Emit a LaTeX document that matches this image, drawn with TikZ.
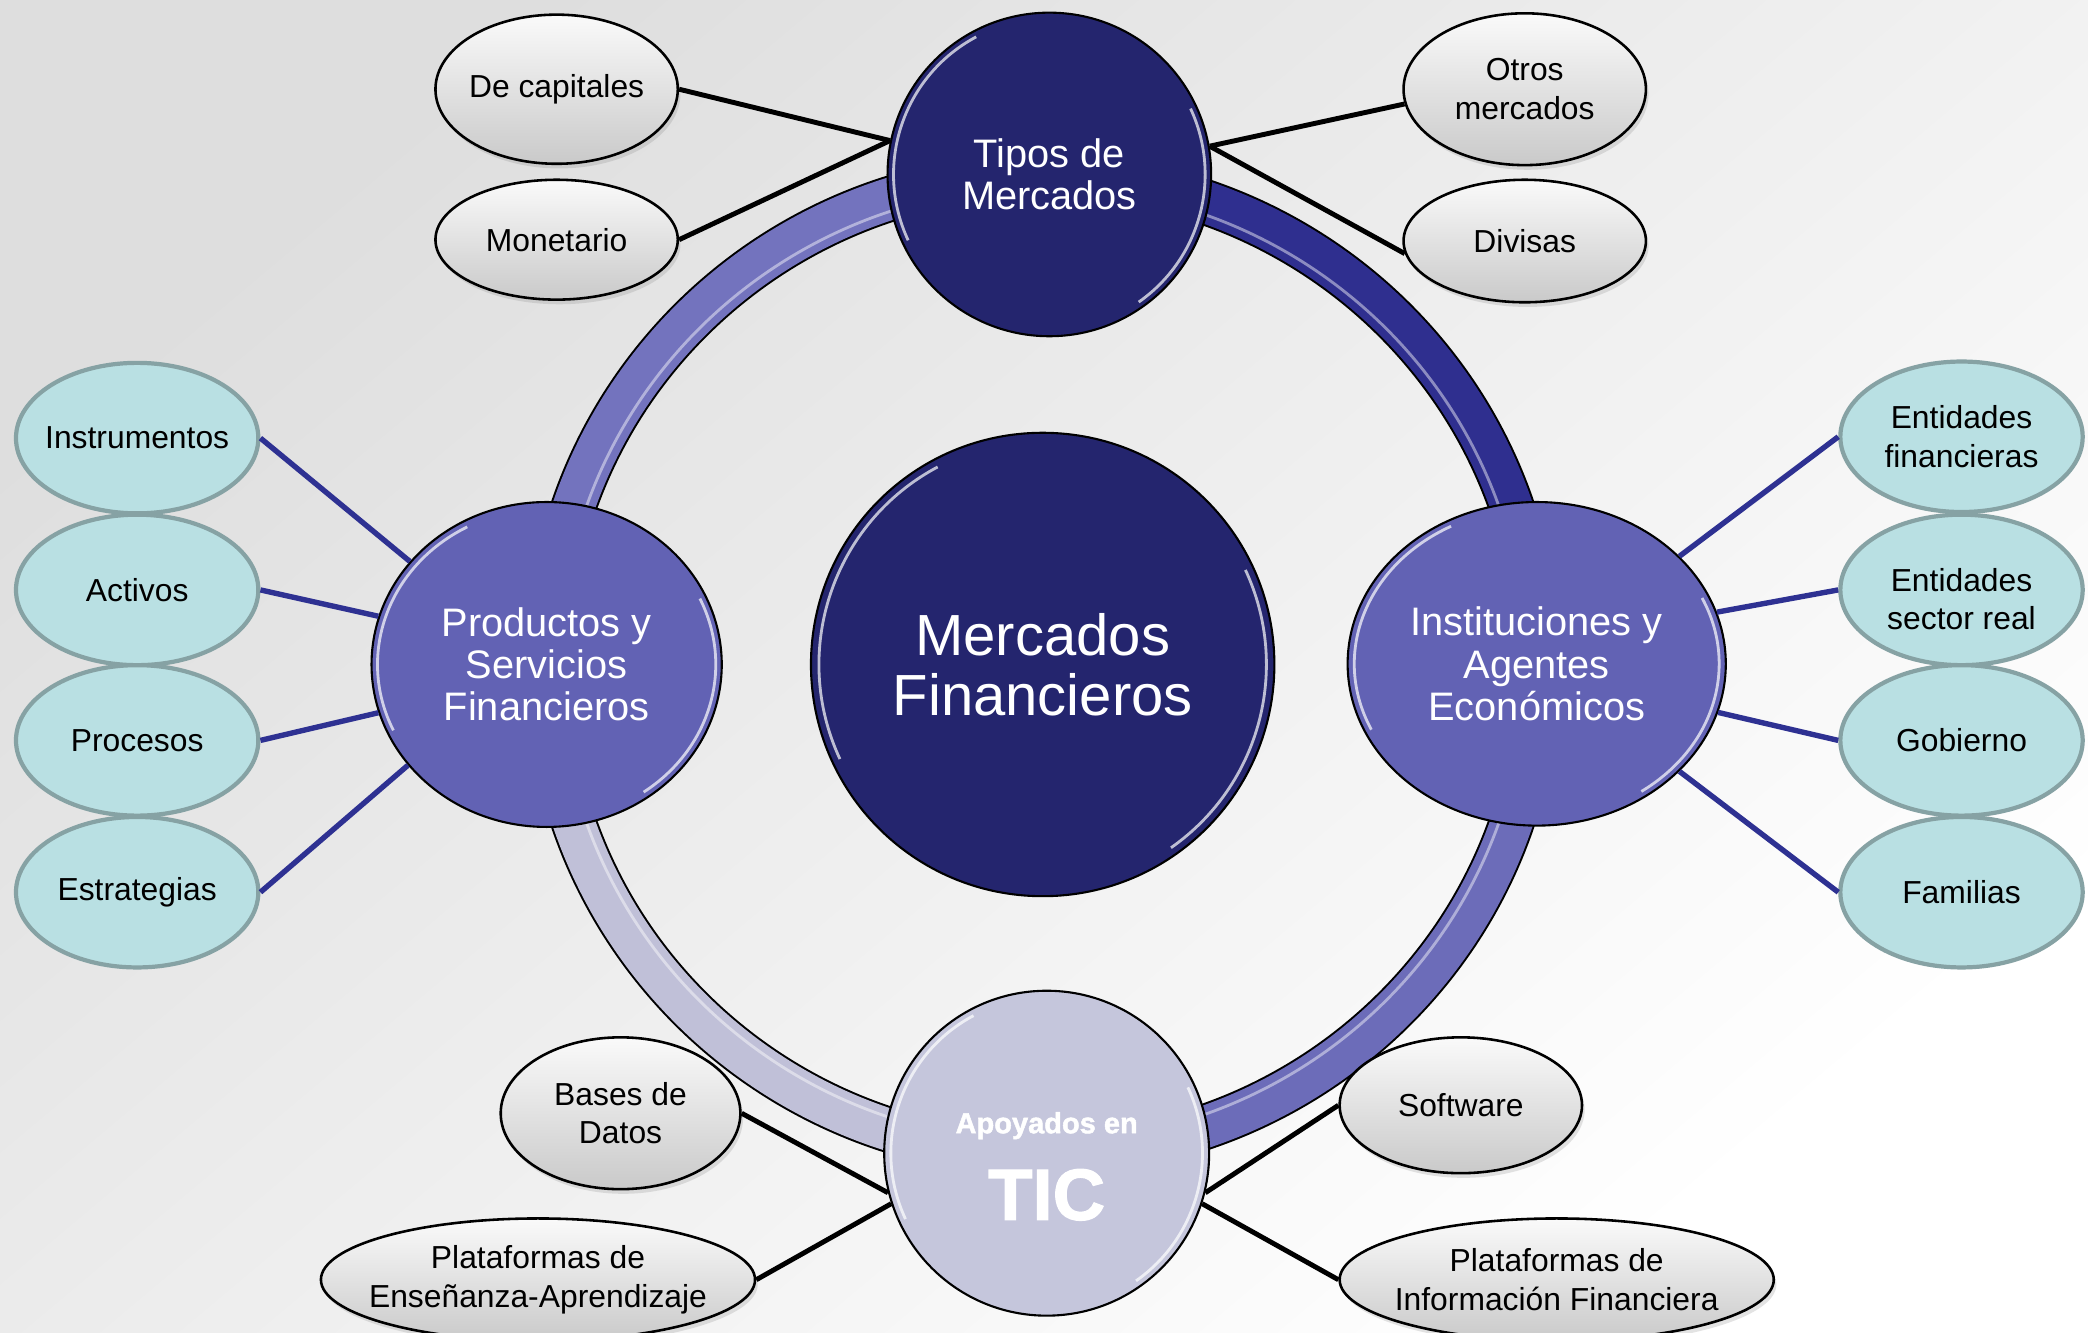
\documentclass[tikz,border=0pt]{standalone}
\usepackage{fontspec}
\setmainfont{Liberation Sans}
\newfontfamily\heavyfont{Liberation Sans Bold}[FakeBold=1.6]
\usetikzlibrary{shapes, calc, shadows}

\definecolor{navyorb}{HTML}{24256E}
\definecolor{purporb}{HTML}{6262B4}
\definecolor{paleorb}{HTML}{C5C6DC}
\definecolor{ringTL}{HTML}{7373BE}
\definecolor{ringTR}{HTML}{2F2F8F}
\definecolor{ringBR}{HTML}{6C6CB9}
\definecolor{ringBL}{HTML}{C0C0D8}
\definecolor{aqua}{HTML}{B9E0E3}
\definecolor{aquaedge}{HTML}{86A2A4}
\definecolor{linkblue}{HTML}{2E3192}

\tikzset{
	orb/.style={circle, draw=black, line width=0.45pt, inner sep=0pt, text=white, align=center},
	bigfont/.style={font=\fontsize{12.4}{12.8}\selectfont},
	midfont/.style={font=\fontsize{8.5}{9}\selectfont},
	smallfont/.style={font=\fontsize{6.8}{8.2}\selectfont},
	greyoval/.style={ellipse, draw=black, line width=0.55pt, inner sep=-0.12cm, align=center,
		top color=gray!4, bottom color=gray!42, smallfont,
		drop shadow={opacity=0.22, shadow xshift=0.02, shadow yshift=-0.035}},
	aquaoval/.style={ellipse, draw=aquaedge, line width=0.9pt, fill=aqua, inner sep=-0.12cm,
		align=center, minimum width=1.82cm, minimum height=1.13cm, smallfont},
	darklink/.style={black, line width=1.05pt},
	bluelink/.style={linkblue, line width=1.15pt},
	glint/.style={white, opacity=0.7, line width=0.6pt}
}

% one quarter of the ring between two orbs
\newcommand{\ringarc}[3]{
	\draw[line width=0.345cm, black] (ringc) ++(#1:3.72 and 3.675)
		arc[start angle=#1, end angle=#2, x radius=3.72, y radius=3.675];
	\draw[line width=0.315cm, #3] (ringc) ++(#1:3.72 and 3.675)
		arc[start angle=#1, end angle=#2, x radius=3.72, y radius=3.675];
	\draw[glint, opacity=0.45] (ringc) ++(#1:3.63 and 3.585)
		arc[start angle=#1, end angle=#2, x radius=3.63, y radius=3.585];
}
% shine on the rim of an orb
\newcommand{\gloss}[3]{
	\draw[glint] (#1.center) ++(118:#2 and #3) arc[start angle=118, end angle=205, x radius=#2, y radius=#3];
	\draw[glint] (#1.center) ++(-55:#2 and #3) arc[start angle=-55, end angle=25, x radius=#2, y radius=#3];
}

\begin{document}
\begin{tikzpicture}

	\useasboundingbox (0,0) rectangle (15.68,10.01);
	\shade[top color=gray!26, bottom color=white, shading angle=40] (0,0) rectangle (15.68,10.01);

	\coordinate (ringc) at (7.83,5.02);
	\ringarc{90}{180}{ringTL}
	\ringarc{0}{90}{ringTR}
	\ringarc{-90}{0}{ringBR}
	\ringarc{180}{270}{ringBL}

	\node[orb, fill=navyorb, minimum size=3.48cm, bigfont] (mercados) at (7.83,5.02) {Mercados\\Financieros};
	\node[orb, fill=navyorb, minimum size=2.43cm, midfont] (tipos) at (7.88,8.70) {Tipos de\\Mercados};
	\node[orb, ellipse, fill=purporb, minimum width=2.63cm, minimum height=2.44cm, midfont] (prod) at (4.105,5.02) {Productos y\\Servicios\\Financieros};
	\node[orb, ellipse, fill=purporb, minimum width=2.84cm, minimum height=2.43cm, midfont] (inst) at (11.54,5.025) {Instituciones y\\Agentes\\Econ\'omicos};
	\node[orb, fill=paleorb, minimum size=2.44cm] (tic) at (7.86,1.35) {};
	\node[anchor=base, text=white, font=\heavyfont\fontsize{6.2}{7}\selectfont] (apoyo) at (7.86,1.50) {Apoyados en};
	\node[anchor=base, text=white, font=\heavyfont\fontsize{15.5}{16}\selectfont] (ticname) at (7.86,0.85) {TIC};

	\gloss{mercados}{1.68}{1.68}
	\gloss{tipos}{1.17}{1.17}
	\gloss{prod}{1.27}{1.17}
	\gloss{inst}{1.37}{1.17}
	\gloss{tic}{1.17}{1.17}

	% tipos de mercado
	\node[greyoval, minimum width=1.82cm, minimum height=1.12cm] (decap) at (4.18,9.34) {De capitales};
	\node[greyoval, minimum width=1.82cm, minimum height=0.90cm] (monet) at (4.18,8.21) {Monetario};
	\node[greyoval, minimum width=1.82cm, minimum height=1.14cm] (otros) at (11.45,9.34) {Otros\\mercados};
	\node[greyoval, minimum width=1.82cm, minimum height=0.92cm] (divisas) at (11.45,8.20) {Divisas};

	% TIC
	\node[greyoval, minimum width=1.80cm, minimum height=1.14cm] (bases) at (4.66,1.65) {Bases de\\Datos};
	\node[greyoval, minimum width=3.26cm, minimum height=0.92cm] (platea) at (4.04,0.40) {Plataformas de\\Ense\~nanza-Aprendizaje};
	\node[greyoval, minimum width=1.82cm, minimum height=1.02cm] (soft) at (10.97,1.71) {Software};
	\node[greyoval, minimum width=3.26cm, minimum height=0.92cm] (platif) at (11.69,0.40) {Plataformas de\\Informaci\'on Financiera};

	% productos
	\node[aquaoval] (instr) at (1.03,6.72) {Instrumentos};
	\node[aquaoval] (activ) at (1.03,5.58) {Activos};
	\node[aquaoval] (proc) at (1.03,4.45) {Procesos};
	\node[aquaoval] (estr) at (1.03,3.31) {Estrategias};

	% instituciones
	\node[aquaoval] (entfin) at (14.73,6.73) {Entidades\\financieras};
	\node[aquaoval, label={[smallfont, align=center, yshift=-0.07cm]center:Entidades\\sector real}] (entsec) at (14.73,5.58) {};
	\node[aquaoval] (gob) at (14.73,4.45) {Gobierno};
	\node[aquaoval] (fam) at (14.73,3.31) {Familias};

	\draw[darklink] (decap.east) -- (tipos.168);
	\draw[darklink] (monet.east) -- (tipos.168);
	\draw[darklink] (otros.187) -- (tipos.10);
	\draw[darklink] (divisas.186) -- (tipos.10);

	\draw[bluelink] (instr.east) -- (prod.143);
	\draw[bluelink] (activ.east) -- (prod.164);
	\draw[bluelink] (proc.east) -- (prod.196);
	\draw[bluelink] (estr.east) -- (prod.216);

	\draw[bluelink] (entfin.west) -- (inst.37);
	\draw[bluelink] (entsec.west) -- (inst.16);
	\draw[bluelink] (gob.west) -- (inst.-15);
	\draw[bluelink] (fam.west) -- (inst.-37);

	\draw[darklink] (bases.east) -- (tic.194);
	\draw[darklink] (platea.east) -- (tic.198);
	\draw[darklink] (soft.west) -- (tic.-14);
	\draw[darklink] (platif.west) -- (tic.-18);
\end{tikzpicture}
\end{document}
